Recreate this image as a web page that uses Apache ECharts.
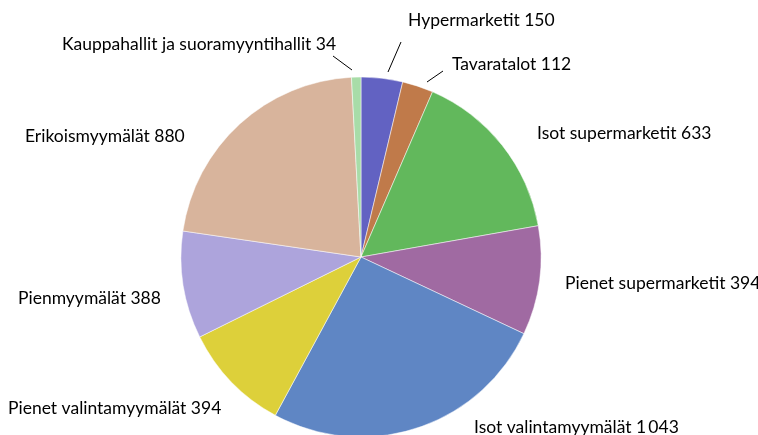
<!DOCTYPE html>
<html>
<head>
<meta charset="utf-8">
<script src="https://cdn.jsdelivr.net/npm/echarts@6/dist/echarts.min.js"></script>
<style>
  html, body { margin: 0; padding: 0; background: #fff; }
</style>
</head>
<body>
<div id="main" style="width: 758px;height: 435px"></div>
<script>
// data, clockwise from 12 o'clock
var categories = ['Hypermarketit', 'Tavaratalot', 'Isot supermarketit', 'Pienet supermarketit',
  'Isot valintamyymälät', 'Pienet valintamyymälät', 'Pienmyymälät', 'Erikoismyymälät',
  'Kauppahallit ja suoramyyntihallit'];
var values = [150, 112, 633, 394, 1043, 394, 388, 880, 34];

var colors = ['#6262c2', '#c07a4a', '#62b85c', '#a06aa2', '#5f86c4', '#ddd03a', '#ada4dc', '#d8b49c', '#a8dca8'];
// label anchors (left / middle) and leader lines for the thin slices
var labelPos = [[408, 20], [452, 64], [537, 133], [565, 283], [474, 427], [8, 408], [18, 298], [25, 136], [62, 44]];
var leaders = {
  0: [[388, 72], [401, 42]],
  1: [[427, 82], [443, 71]],
  8: [[352, 70], [333, 56]]
};

function fmt(v) {
  var s = String(v);
  if (v >= 1000) s = s.slice(0, s.length - 3) + '\u2009' + s.slice(-3);
  return s;
}

var chartDom = document.getElementById('main');
var myChart = echarts.init(chartDom);
var option;

var pieData = [];
for (var i = 0; i < categories.length; i++) {
  pieData.push({
    name: categories[i],
    value: values[i],
    itemStyle: { color: colors[i] },
    labelLine: { show: !!leaders[i] }
  });
}

option = {
  animation: false,
  series: [
    {
      type: 'pie',
      center: [361, 257],
      radius: 180,
      startAngle: 90,
      clockwise: true,
      avoidLabelOverlap: false,
      itemStyle: { borderColor: '#fff', borderWidth: 0.5 },
      label: {
        show: true,
        position: 'outside',
        color: '#000',
        fontFamily: 'Lato',
        fontSize: 17.5,
        formatter: function (p) { return p.name + ' ' + fmt(p.value); }
      },
      labelLine: { show: false, lineStyle: { color: '#000', width: 1 } },
      labelLayout: function (params) {
        var i = params.dataIndex;
        var res = {
          x: labelPos[i][0],
          y: labelPos[i][1],
          align: 'left',
          verticalAlign: 'middle'
        };
        if (leaders[i]) res.labelLinePoints = leaders[i];
        return res;
      },
      data: pieData
    }
  ]
};

option && myChart.setOption(option);
</script>
</body>
</html>
